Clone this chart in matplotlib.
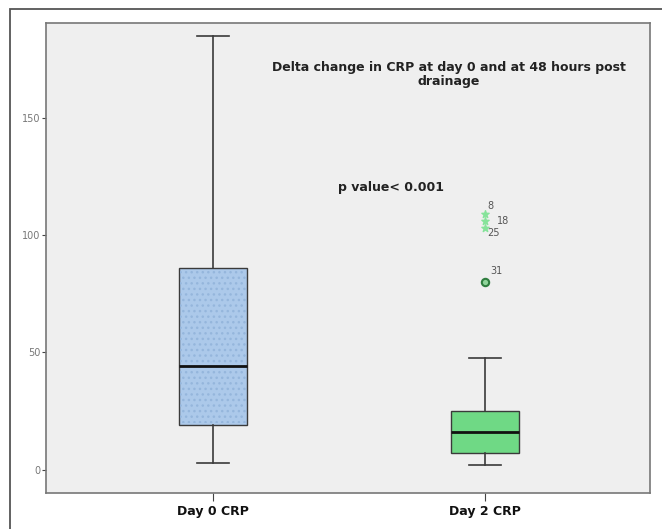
import matplotlib.pyplot as plt
from matplotlib.patches import Rectangle

# valorile
labels = ['Day 0 CRP', 'Day 2 CRP']
whislo = [3, 2]
q1 = [19, 7]
med = [44, 16]
q3 = [86, 25]
whishi = [185, 47.5]

# outlieri pentru Day 2
out_circle = [80]
out_circle_id = ['31']
out_star = [109, 106, 103]
out_star_id = ['8', '18', '25']

fig = plt.figure(figsize=(6.62, 5.29), dpi=100)
fig.patch.set_facecolor('white')
ax = fig.add_axes([46 / 662, 1 - 493 / 529, 604 / 662, 470 / 529])
ax.set_facecolor('#efefef')

stats = []
for i in range(len(labels)):
  stats.append({'label': labels[i], 'whislo': whislo[i], 'q1': q1[i], 'med': med[i],
                'q3': q3[i], 'whishi': whishi[i], 'fliers': []})

bp = ax.bxp(stats, positions=[1, 2], widths=0.25, patch_artist=True, showfliers=False,
            boxprops=dict(edgecolor='#3a3a3a', linewidth=1.0),
            whiskerprops=dict(color='#3a3a3a', linewidth=1.2),
            capprops=dict(color='#3a3a3a', linewidth=1.2),
            medianprops=dict(color='#111111', linewidth=2.0, zorder=3),
            capwidths=0.12)

bp['boxes'][0].set_facecolor('#acc9ea')
bp['boxes'][1].set_facecolor('#6fd985')

# model de puncte discret pe cutia albastra (putin in interior ca sa nu acopere marginea)
ax.add_patch(Rectangle((1 - 0.12, q1[0] + 0.8), 0.24, q3[0] - q1[0] - 1.6, fill=False,
                       hatch='...', edgecolor='#95b6dc', linewidth=0, zorder=2.1))

# outlieri
ax.scatter([2] * len(out_circle), out_circle, s=28, facecolor='#8fd49a',
           edgecolor='#2f7d3f', linewidth=1.5, zorder=5)
for v, t in zip(out_circle, out_circle_id):
  ax.text(2.02, v + 2.5, t, fontsize=7, color='#555555', ha='left', va='bottom')
ax.scatter([2] * len(out_star), out_star, marker='*', s=30, color='#86e39a', zorder=5)
ax.text(2.01, 110.5, out_star_id[0], fontsize=7, color='#555555', ha='left', va='bottom')
ax.text(2.045, 106, out_star_id[1], fontsize=7, color='#555555', ha='left', va='center')
ax.text(2.01, 101, out_star_id[2], fontsize=7, color='#555555', ha='left', va='center')

ax.set_xlim(0.386, 2.607)
ax.set_ylim(-10, 190.5)
ax.set_yticks([0, 50, 100, 150])
ax.set_xticks([1, 2])
ax.set_xticklabels(labels, fontsize=9, fontweight='bold', color='#111111')
ax.tick_params(axis='y', labelsize=7, labelcolor='#777777', length=3, color='#444444', pad=1)
ax.tick_params(axis='x', length=6, color='#444444', pad=3)
for s in ax.spines.values():
  s.set_color('#777777')
  s.set_linewidth(1.2)

ax.text(0.667, 0.891, 'Delta change in CRP at day 0 and at 48 hours post\ndrainage',
        transform=ax.transAxes, ha='center', va='center', fontsize=9, fontweight='bold',
        color='#222222', linespacing=1.1)
ax.text(338 / 662, 1 - 187 / 529, 'p value< 0.001', transform=fig.transFigure,
        ha='left', va='center', fontsize=9, fontweight='bold', color='#222222')

# chenarul exterior
fig.add_artist(Rectangle((10 / 662, -0.1), 1.2, 1.1 - 9 / 529, transform=fig.transFigure,
                         fill=False, edgecolor='#555555', linewidth=1.3))

fig.savefig('out.png', dpi=100)
